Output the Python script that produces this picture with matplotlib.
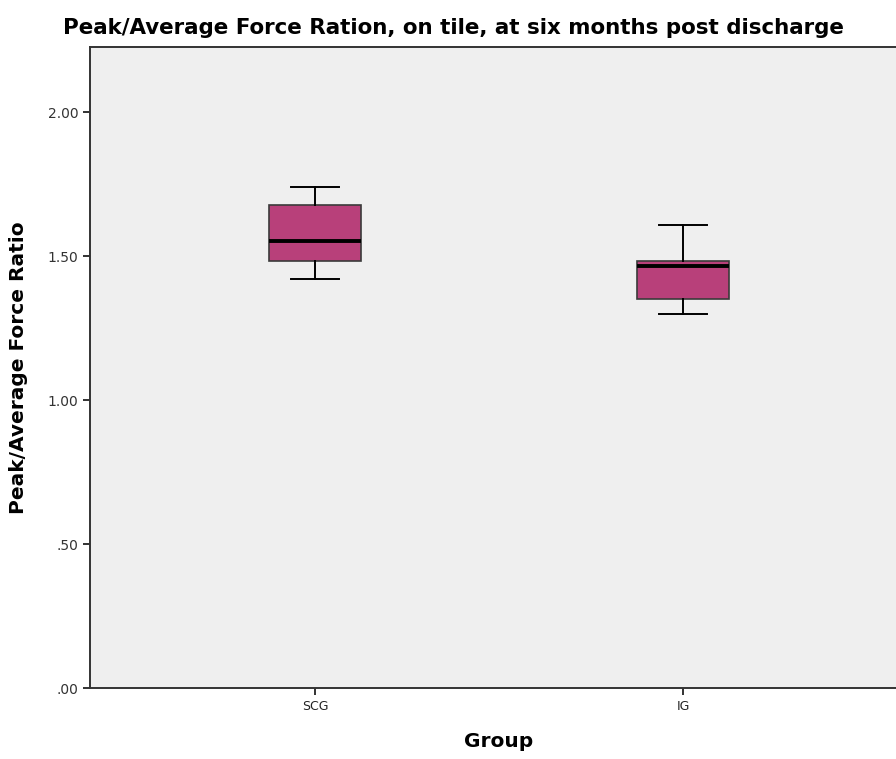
import numpy as np
import matplotlib.pyplot as plt

# Five-number summaries per group
groups = ["SCG", "IG"]
whisker_low = [1.421, 1.300]
q1 = [1.484, 1.350]
median = [1.554, 1.466]
q3 = [1.677, 1.483]
whisker_high = [1.739, 1.609]

yticks = [0.0, 0.5, 1.0, 1.5, 2.0]
ytick_labels = [".00", ".50", "1.00", "1.50", "2.00"]

stats = []
for i, g in enumerate(groups):
    stats.append({
        "label": g,
        "whislo": whisker_low[i],
        "q1": q1[i],
        "med": median[i],
        "q3": q3[i],
        "whishi": whisker_high[i],
        "fliers": [],
    })

fig = plt.figure(figsize=(8.96, 7.59), dpi=100)
ax = fig.add_axes([0.1004, 0.0935, 0.913, 0.8446])
ax.set_facecolor("#efefef")

positions = np.arange(len(groups))
ax.bxp(stats, positions=positions, widths=0.25, patch_artist=True,
       showfliers=False, capwidths=0.13,
       boxprops=dict(facecolor="#b8407a", edgecolor="#3a3a3a", linewidth=1.2),
       medianprops=dict(color="black", linewidth=2.8),
       whiskerprops=dict(color="black", linewidth=1.4),
       capprops=dict(color="black", linewidth=1.4))

ax.set_xlim(-0.611, 1.611)
ax.set_ylim(0, 2.226)
ax.set_xticks(positions)
ax.set_xticklabels(groups, fontsize=9, color="#222222")
ax.set_yticks(yticks)
ax.set_yticklabels(ytick_labels, fontsize=10, color="#333333")
ax.tick_params(axis="both", direction="out", length=5, width=1.3, color="#222222")

for side in ["left", "bottom", "top", "right"]:
    ax.spines[side].set_color("#333333")
    ax.spines[side].set_linewidth(1.4)

ax.set_xlabel("Group", fontsize=14.5, fontweight="bold", labelpad=14)
ax.set_ylabel("Peak/Average Force Ratio", fontsize=14.5, fontweight="bold", labelpad=14)
fig.text(0.506, 0.963, "Peak/Average Force Ration, on tile, at six months post discharge",
         ha="center", va="center", fontsize=15.4, fontweight="bold")

fig.savefig("out.png", dpi=100)
